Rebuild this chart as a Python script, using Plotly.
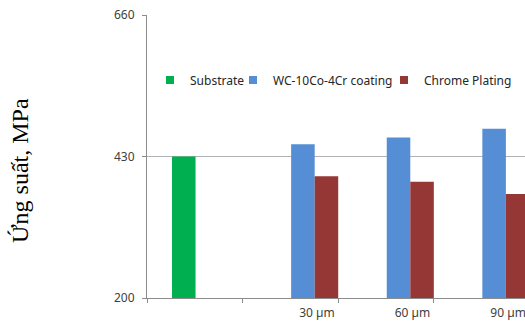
import plotly.graph_objects as go

categories = ["Substrate", "30 µm", "60 µm", "90 µm"]
substrate = [430, None, None, None]
wc_coating = [None, 450, 461, 475]
chrome = [None, 398, 389, 369]
y_ticks = [200, 430, 660]

series = [
    ("Substrate", substrate, "#00B050", "legend", 190),
    ("WC-10Co-4Cr coating", wc_coating, "#558ED5", "legend2", 273),
    ("Chrome Plating", chrome, "#953735", "legend3", 424),
]

bargap = 0.2615
hw = (1 - bargap) / 2
x_range = [-hw - bargap, 3.323]
boundaries = [k + hw for k in range(-1, 3)]

fig = go.Figure()
for name, vals, col, lg, _ in series:
    fig.add_trace(go.Bar(x=categories, y=vals, name=name, marker_color=col,
                         marker_line_width=0, showlegend=False))
    fig.add_trace(go.Scatter(x=[None], y=[None], name=name, mode="markers",
                             marker=dict(symbol="square", size=8, color=col),
                             legend=lg, hoverinfo="skip"))
fig.add_trace(go.Scatter(x=[None], y=[None], xaxis="x2", showlegend=False,
                         hoverinfo="skip"))

tickfont = dict(family="Noto Sans", size=12, color="#404040")
legfont = dict(family="Noto Sans", size=12, color="#262626")
legends = {}
for name, vals, col, lg, text_x in series:
    legends[lg] = dict(orientation="h", x=(text_x - 40 - 147) / 378, y=(298 - 80) / 283,
                       yanchor="middle", xanchor="left", font=legfont,
                       bgcolor="rgba(0,0,0,0)")

fig.update_layout(
    width=525, height=321,
    margin=dict(l=147, r=0, t=15, b=23, autoexpand=False),
    paper_bgcolor="white", plot_bgcolor="white",
    barmode="group", bargap=bargap, bargroupgap=0,
    xaxis=dict(type="category", range=x_range, showgrid=False,
               showline=True, linecolor="#8c8c8c", linewidth=1,
               ticks="", tickvals=categories[1:], ticktext=categories[1:],
               tickfont=tickfont, ticklabelshift=14, ticklabelstandoff=4),
    xaxis2=dict(overlaying="x", anchor="y", type="linear", range=x_range,
                showgrid=False, showline=False, zeroline=False,
                showticklabels=False, ticks="outside", ticklen=4,
                tickcolor="#8c8c8c", tickvals=boundaries),
    yaxis=dict(range=[200, 660], tickvals=y_ticks, showgrid=True,
               gridcolor="#b3b3b3", gridwidth=1, zeroline=False,
               showline=True, linecolor="#8c8c8c", ticks="outside",
               ticklen=4, tickcolor="#8c8c8c", tickfont=tickfont,
               ticklabelstandoff=5),
    annotations=[dict(text="Ứng suất, MPa", textangle=-90, xref="paper", yref="paper",
                      x=(20 - 147) / 378, y=(298 - 171) / 283, xanchor="center",
                      yanchor="middle", showarrow=False,
                      font=dict(family="Liberation Serif", size=24, color="#000000"))],
    **legends,
)

fig.write_html("out.html", config={"displayModeBar": False},
               post_script="document.body.style.margin='0';document.body.style.overflow='hidden';")
